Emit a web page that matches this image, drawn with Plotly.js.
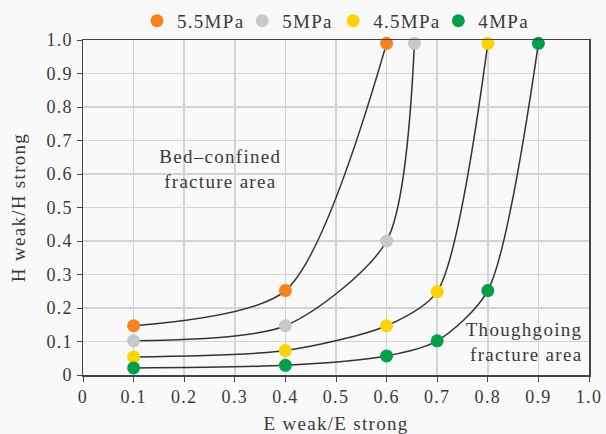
<!DOCTYPE html>
<html>
<head>
<meta charset="utf-8">
<script src="https://cdn.plot.ly/plotly-3.0.1.min.js"></script>
<style>
html,body{margin:0;padding:0;background:#f9f9f9;}
#chart{width:606px;height:434px;}
#chart text{letter-spacing:1.3px;}
</style>
</head>
<body>
<div id="chart"></div>
<script>
const seriesNames = ["5.5MPa", "5MPa", "4.5MPa", "4MPa"];
const seriesColors = ["#f7821b", "#c8c8c8", "#ffd200", "#00a04b"];
const x55 = [0.1, 0.4, 0.6];
const y55 = [0.147, 0.252, 0.99];
const x50 = [0.1, 0.4, 0.6, 0.655];
const y50 = [0.102, 0.147, 0.40, 0.99];
const x45 = [0.1, 0.4, 0.6, 0.7, 0.8];
const y45 = [0.054, 0.073, 0.147, 0.249, 0.99];
const x40 = [0.1, 0.4, 0.6, 0.7, 0.8, 0.9];
const y40 = [0.021, 0.029, 0.057, 0.102, 0.252, 0.99];
const tickVals = [0, 0.1, 0.2, 0.3, 0.4, 0.5, 0.6, 0.7, 0.8, 0.9, 1.0];
const tickText = ["0", "0.1", "0.2", "0.3", "0.4", "0.5", "0.6", "0.7", "0.8", "0.9", "1.0"];

const xs = [x55, x50, x45, x40];
const ys = [y55, y50, y45, y40];
const font = "Liberation Serif, Times New Roman, serif";
const txt = "#3a3a3a";
const traces = [];
for (let i = 0; i < 4; i++) {
  traces.push({x: xs[i], y: ys[i], mode: "lines", type: "scatter", showlegend: false,
    line: {shape: "spline", smoothing: 0.75, color: "#333", width: 1.5}, hoverinfo: "skip"});
}
for (let i = 0; i < 4; i++) {
  traces.push({x: xs[i], y: ys[i], mode: "markers", type: "scatter", name: seriesNames[i],
    marker: {color: seriesColors[i], size: 13}, cliponaxis: false});
}
const axisCommon = {
  range: [0, 1.0], tickvals: tickVals, ticktext: tickText, showgrid: true, gridcolor: "#d4d4d4", gridwidth: 1.5,
  showline: true, linecolor: "#444", linewidth: 1.5, mirror: true, ticks: "outside", ticklen: 5, tickcolor: "#444",
  zeroline: false, tickfont: {family: font, size: 18, color: txt}, automargin: false
};
const layout = {
  width: 606, height: 434,
  paper_bgcolor: "#f9f9f9", plot_bgcolor: "#f9f9f9",
  margin: {l: 83, r: 17, t: 40, b: 59, autoexpand: false},
  font: {family: font, size: 18, color: txt},
  showlegend: true,
  legend: {orientation: "h", x: 0.495, xanchor: "center", y: 1.057, yanchor: "middle",
    font: {family: font, size: 19, color: txt}, bgcolor: "rgba(0,0,0,0)"},
  xaxis: Object.assign({}, axisCommon, {
    title: {text: "E weak/E strong", font: {family: font, size: 19, color: txt}, standoff: 10}}),
  yaxis: Object.assign({}, axisCommon, {
    title: {text: "H weak/H strong", font: {family: font, size: 19, color: txt}, standoff: 20}}),
  annotations: [
    {x: 0.271, y: 0.614, xref: "x", yref: "y", text: "Bed\u2013confined<br>fracture area", showarrow: false,
      font: {family: font, size: 19, color: txt}, align: "center"},
    {x: 0.993, y: 0.10, xref: "x", yref: "y", xanchor: "right", text: "Thoughgoing<br>fracture area", showarrow: false,
      font: {family: font, size: 19, color: txt}, align: "right"}
  ]
};
Plotly.newPlot("chart", traces, layout, {displayModeBar: false, staticPlot: true});
</script>
</body>
</html>
